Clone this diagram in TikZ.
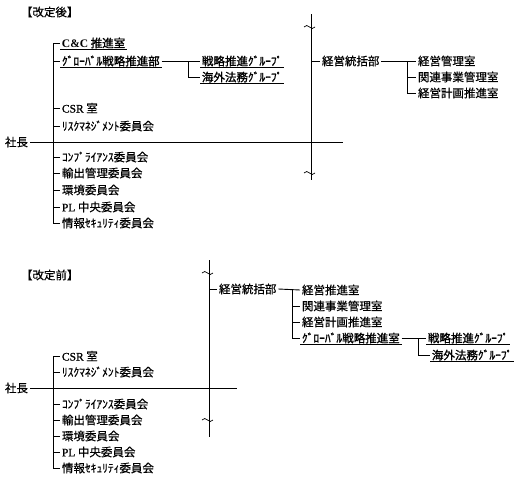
\documentclass[tikz,border=0pt]{standalone}
\usepackage{fontspec}
\setmainfont{Liberation Serif}
\newfontfamily\jp[FakeBold=0.4]{Noto Sans CJK JP}
\newfontfamily\jpb[FakeBold=1.4]{Noto Sans CJK JP}
\newfontfamily\ltn[FakeBold=0.8]{Liberation Serif}
\newcommand\latn[1]{{\ltn #1}}
\begin{document}
\begin{tikzpicture}[x=1pt,y=-1pt,line width=0.9pt,
  lbl/.style={anchor=west,inner sep=1.5pt,font=\fontsize{11.5}{12}\selectfont\jp},
  bl/.style={anchor=west,inner sep=1.5pt,font=\fontsize{11.5}{12}\selectfont\jpb},
  tld/.style={line width=0.7pt},
  ul/.style={line width=0.9pt}]
\useasboundingbox[fill=white] (0,0) rectangle (525,480);

% ---------- top: after revision ----------
\node[lbl] (t1) at (19,12) {【改定後】};
\node[bl] (cc) at (60,43) {{\rmfamily\bfseries C\&C} 推進室};
\node[bl] (g1) at (60,61) {ｸﾞﾛｰﾊﾞﾙ戦略推進部};
\node[bl] (g2) at (200,61) {戦略推進ｸﾞﾙｰﾌﾟ};
\node[bl] (g3) at (200,77) {海外法務ｸﾞﾙｰﾌﾟ};
\node[lbl] (a1) at (60,108) {\latn{CSR} 室};
\node[lbl] (a2) at (60,126) {ﾘｽｸﾏﾈｼﾞﾒﾝﾄ委員会};
\node[lbl] (s1) at (3,142) {社長};
\node[lbl] (a3) at (60,157) {ｺﾝﾌﾟﾗｲｱﾝｽ委員会};
\node[lbl] (a4) at (60,173) {輸出管理委員会};
\node[lbl] (a5) at (60,190) {環境委員会};
\node[lbl] (a6) at (60,207) {\latn{PL} 中央委員会};
\node[lbl] (a7) at (60,223) {情報ｾｷｭﾘﾃｨ委員会};
\node[lbl] (kt1) at (320,61) {経営統括部};
\node[lbl] (k1) at (416,61) {経営管理室};
\node[lbl] (k2) at (416,77) {関連事業管理室};
\node[lbl] (k3) at (416,93) {経営計画推進室};
\coordinate (w1) at (309.5,27);
\coordinate (w2) at (309.5,173);

\coordinate (b1) at (53,43);
\coordinate (b1e) at (53,223);
\coordinate (e1) at (343,142);
\coordinate (v1t) at (311,14);
\coordinate (v1b) at (311,180);
\coordinate (gx) at (188,61);
\coordinate (kx) at (407,61);

\draw (b1) -- (b1e);
\foreach \n in {cc,g1,a1,a2,a3,a4,a5,a6,a7} \draw (\n.west -| b1) -- (\n.west);
\draw (s1.east) -- (e1);
\draw (v1t) -- (v1b);
\draw (kt1.west -| v1t) -- (kt1.west);
\draw (g1.east) -- (g2.west);
\draw (gx) |- (g3.west);
\draw (kt1.east) -- (k1.west);
\draw (kx) |- (k3.west);
\draw (k2.west -| kx) -- (k2.west);
\foreach \n in {cc,g1,g2,g3} \draw[ul] ([yshift=1pt]\n.south west) -- ([yshift=1pt]\n.south east);
\foreach \w in {w1,w2} \draw[tld] ([xshift=-5.5pt]\w) sin ++(2.75,-1.5) cos ++(2.75,1.5) sin ++(2.75,1.5) cos ++(2.75,-1.5);

% ---------- bottom: before revision ----------
\node[lbl] (t2) at (19,275) {【改定前】};
\node[lbl] (kt2) at (217,289) {経営統括部};
\node[lbl] (m1) at (300,290) {経営推進室};
\node[lbl] (m2) at (300,306) {関連事業管理室};
\node[lbl] (m3) at (300,322) {経営計画推進室};
\node[bl] (m4) at (300,338) {ｸﾞﾛｰﾊﾞﾙ戦略推進室};
\node[bl] (h1) at (426,338) {戦略推進ｸﾞﾙｰﾌﾟ};
\node[bl] (h2) at (430,355) {海外法務ｸﾞﾙｰﾌﾟ};
\node[lbl] (c1) at (60,356) {\latn{CSR} 室};
\node[lbl] (c2) at (60,372) {ﾘｽｸﾏﾈｼﾞﾒﾝﾄ委員会};
\node[lbl] (s2) at (3,388) {社長};
\node[lbl] (c3) at (60,404) {ｺﾝﾌﾟﾗｲｱﾝｽ委員会};
\node[lbl] (c4) at (60,420) {輸出管理委員会};
\node[lbl] (c5) at (60,436) {環境委員会};
\node[lbl] (c6) at (60,452) {\latn{PL} 中央委員会};
\node[lbl] (c7) at (60,468) {情報ｾｷｭﾘﾃｨ委員会};
\coordinate (w3) at (207.5,273);
\coordinate (w4) at (207.5,420);

\coordinate (b2) at (53,356);
\coordinate (b2e) at (53,468);
\coordinate (e2) at (237,388);
\coordinate (v2t) at (209,260);
\coordinate (v2b) at (209,437);
\coordinate (mx) at (292,290);
\coordinate (hx) at (418,338);

\draw (b2) -- (b2e);
\foreach \n in {c1,c2,c3,c4,c5,c6,c7} \draw (\n.west -| b2) -- (\n.west);
\draw (s2.east) -- (e2);
\draw (v2t) -- (v2b);
\draw (kt2.west -| v2t) -- (kt2.west);
\draw (kt2.east) -- (m1.west);
\draw (mx) |- (m4.west);
\foreach \n in {m2,m3} \draw (\n.west -| mx) -- (\n.west);
\draw (m4.east) -- (h1.west);
\draw (hx) |- (h2.west);
\foreach \n in {m4,h1,h2} \draw[ul] ([yshift=1pt]\n.south west) -- ([yshift=1pt]\n.south east);
\foreach \w in {w3,w4} \draw[tld] ([xshift=-5.5pt]\w) sin ++(2.75,-1.5) cos ++(2.75,1.5) sin ++(2.75,1.5) cos ++(2.75,-1.5);
\end{tikzpicture}
\end{document}
